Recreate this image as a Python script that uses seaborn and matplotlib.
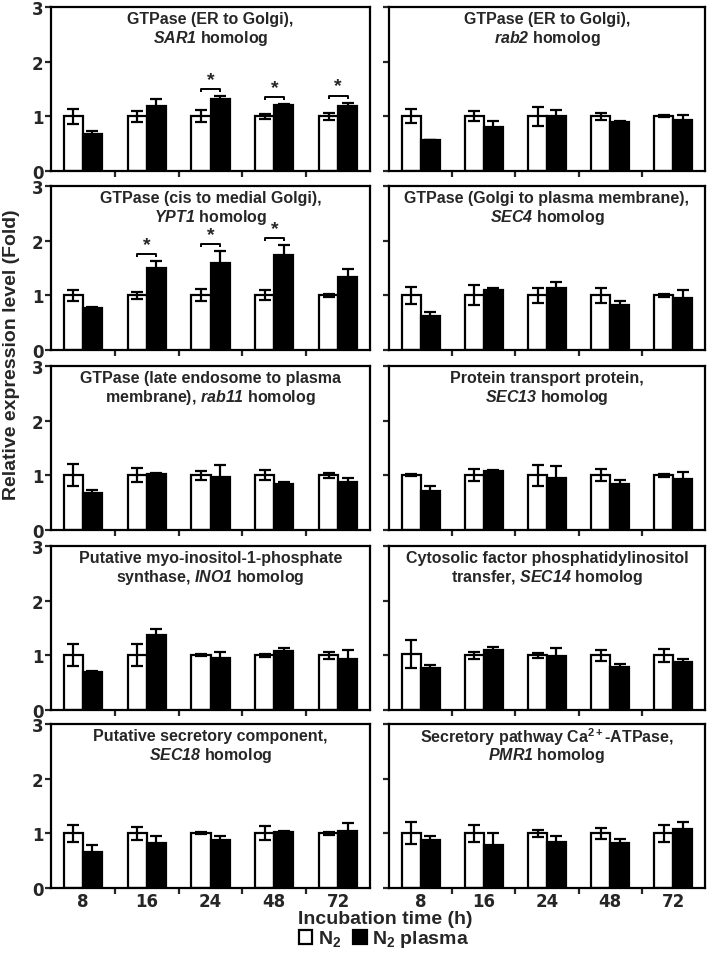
import numpy as np
import pandas as pd
import matplotlib
matplotlib.use("Agg")
import matplotlib.pyplot as plt
import seaborn as sns
from matplotlib.patches import Patch

# ---------------- data ----------------
times = ["8", "16", "24", "48", "72"]
groups = ["N2", "N2 plasma"]

title_line1 = [
    "GTPase (ER to Golgi),",
    "GTPase (ER to Golgi),",
    "GTPase (cis to medial Golgi),",
    "GTPase (Golgi to plasma membrane),",
    "GTPase (late endosome to plasma",
    "Protein transport protein,",
    "Putative myo-inositol-1-phosphate",
    "Cytosolic factor phosphatidylinositol",
    "Putative secretory component,",
    "Secretory pathway Ca$^{2+}$-ATPase,",
]
title_line2 = [
    r"$\mathsf{SAR1}$ homolog",
    r"$\mathsf{rab2}$ homolog",
    r"$\mathsf{YPT1}$ homolog",
    r"$\mathsf{SEC4}$ homolog",
    r"membrane), $\mathsf{rab11}$ homolog",
    r"$\mathsf{SEC13}$ homolog",
    r"synthase, $\mathsf{INO1}$ homolog",
    r"transfer, $\mathsf{SEC14}$ homolog",
    r"$\mathsf{SEC18}$ homolog",
    r"$\mathsf{PMR1}$ homolog",
]

n2_mean = [
    [1.00, 1.00, 1.00, 1.00, 1.00],
    [1.00, 1.00, 1.00, 1.00, 1.00],
    [1.00, 1.00, 1.00, 1.00, 1.00],
    [1.00, 1.00, 1.00, 1.00, 1.00],
    [1.00, 1.00, 1.00, 1.00, 1.00],
    [1.00, 1.00, 1.00, 1.00, 1.00],
    [1.00, 1.00, 1.00, 1.00, 1.00],
    [1.02, 1.00, 1.00, 1.00, 1.00],
    [1.00, 1.00, 1.00, 1.00, 1.00],
    [1.00, 1.00, 1.00, 1.00, 1.00],
]
n2_err = [
    [0.14, 0.10, 0.11, 0.05, 0.07],
    [0.13, 0.09, 0.17, 0.07, 0.02],
    [0.10, 0.07, 0.11, 0.09, 0.03],
    [0.15, 0.18, 0.14, 0.14, 0.03],
    [0.20, 0.13, 0.08, 0.09, 0.05],
    [0.02, 0.11, 0.19, 0.11, 0.03],
    [0.20, 0.20, 0.02, 0.03, 0.07],
    [0.26, 0.07, 0.05, 0.10, 0.12],
    [0.15, 0.12, 0.02, 0.13, 0.03],
    [0.20, 0.16, 0.06, 0.10, 0.15],
]
plasma_mean = [
    [0.67, 1.19, 1.31, 1.21, 1.19],
    [0.57, 0.80, 1.00, 0.89, 0.93],
    [0.76, 1.50, 1.59, 1.74, 1.33],
    [0.62, 1.10, 1.14, 0.83, 0.96],
    [0.67, 1.02, 0.97, 0.85, 0.87],
    [0.72, 1.08, 0.95, 0.84, 0.94],
    [0.69, 1.37, 0.95, 1.08, 0.93],
    [0.77, 1.10, 0.99, 0.79, 0.88],
    [0.65, 0.82, 0.87, 1.02, 1.04],
    [0.87, 0.79, 0.84, 0.82, 1.08],
]
plasma_err = [
    [0.06, 0.12, 0.06, 0.01, 0.06],
    [0.00, 0.12, 0.11, 0.03, 0.09],
    [0.02, 0.13, 0.22, 0.18, 0.16],
    [0.08, 0.03, 0.10, 0.07, 0.14],
    [0.07, 0.02, 0.22, 0.03, 0.08],
    [0.08, 0.02, 0.22, 0.08, 0.12],
    [0.02, 0.11, 0.11, 0.06, 0.17],
    [0.05, 0.05, 0.15, 0.06, 0.06],
    [0.13, 0.13, 0.08, 0.02, 0.15],
    [0.09, 0.22, 0.11, 0.07, 0.12],
]
significant = [
    [0, 0, 1, 1, 1],
    [0, 0, 0, 0, 0],
    [0, 1, 1, 1, 0],
    [0, 0, 0, 0, 0],
    [0, 0, 0, 0, 0],
    [0, 0, 0, 0, 0],
    [0, 0, 0, 0, 0],
    [0, 0, 0, 0, 0],
    [0, 0, 0, 0, 0],
    [0, 0, 0, 0, 0],
]

# ---------------- style ----------------
sns.set_style("ticks")
plt.rcParams["font.family"] = ["Liberation Sans", "DejaVu Sans"]
plt.rcParams["font.weight"] = "bold"
plt.rcParams["mathtext.fontset"] = "custom"
plt.rcParams["mathtext.default"] = "bf"
plt.rcParams["mathtext.bf"] = "Liberation Sans:bold"
plt.rcParams["mathtext.rm"] = "Liberation Sans:bold"
plt.rcParams["mathtext.sf"] = "Liberation Sans:bold:italic"
plt.rcParams["mathtext.it"] = "Liberation Sans:bold:italic"

W, H = 709, 954
fig = plt.figure(figsize=(W / 100, H / 100), dpi=100)
fig.patch.set_facecolor("white")

col_x = [51, 389]
col_w = [319, 316]
row_top = [8, 187, 367, 547, 725]
ax_h = 164
LW = 1.6
tick_font = dict(family="DejaVu Sans", weight="bold", size=12)

for i in range(10):
    r, c = divmod(i, 2)
    ax = fig.add_axes([col_x[c] / W, 1 - (row_top[r] + ax_h) / H,
                       col_w[c] / W, ax_h / H])
    df = pd.DataFrame({
        "time": times * 2,
        "treatment": [groups[0]] * 5 + [groups[1]] * 5,
        "value": n2_mean[i] + plasma_mean[i],
    })
    sns.barplot(data=df, x="time", y="value", hue="treatment",
                order=times, hue_order=groups, palette=["white", "black"],
                edgecolor="black", linewidth=LW, width=0.6, gap=0,
                saturation=1, errorbar=None, legend=False, ax=ax)

    bars = ax.patches
    xs_n2 = [b.get_x() + b.get_width() / 2 for b in bars[:5]]
    xs_pl = [b.get_x() + b.get_width() / 2 for b in bars[5:10]]
    ax.errorbar(xs_n2, n2_mean[i], yerr=n2_err[i], fmt="none",
                ecolor="black", elinewidth=LW, capsize=4, capthick=LW,
                zorder=5)
    ax.errorbar(xs_pl, plasma_mean[i], yerr=plasma_err[i], fmt="none",
                ecolor="black", elinewidth=LW, capsize=4, capthick=LW,
                zorder=5)

    # significance brackets
    for k in range(5):
        if significant[i][k]:
            top = max(n2_mean[i][k] + n2_err[i][k],
                      plasma_mean[i][k] + plasma_err[i][k])
            yb = top + 0.13
            ax.plot([xs_n2[k], xs_n2[k], xs_pl[k], xs_pl[k]],
                    [yb - 0.06, yb, yb, yb - 0.06], color="black",
                    lw=1.4, solid_capstyle="butt", clip_on=False)
            ax.text((xs_n2[k] + xs_pl[k]) / 2, yb + 0.02, "*",
                    ha="center", va="bottom", fontsize=14,
                    fontweight="bold")

    ax.set_xlim(-0.5, 4.5)
    ax.set_ylim(0, 3)
    ax.set_xlabel("")
    ax.set_ylabel("")
    ax.set_xticks([0.5, 1.5, 2.5, 3.5])
    ax.set_xticklabels([])
    ax.set_xticks(range(5), minor=True)
    if r == 4:
        ax.set_xticklabels(times, minor=True, **tick_font)
    else:
        ax.set_xticklabels([""] * 5, minor=True)
    ax.tick_params(axis="x", which="major", length=4, width=LW,
                   direction="out")
    ax.tick_params(axis="x", which="minor", length=0, pad=3)
    ax.set_yticks([0, 1, 2, 3])
    if c == 0:
        ax.set_yticklabels(["0", "1", "2", "3"], **tick_font)
    else:
        ax.set_yticklabels([])
    ax.tick_params(axis="y", length=4, width=LW, direction="out", pad=1.5)
    for s in ax.spines.values():
        s.set_visible(True)
        s.set_linewidth(LW)
        s.set_color("black")

    ax.text(0.5, 0.927, title_line1[i], transform=ax.transAxes,
            ha="center", va="center", fontsize=11.5, fontweight="bold")
    ax.text(0.5, 0.812, title_line2[i], transform=ax.transAxes,
            ha="center", va="center", fontsize=11.5, fontweight="bold")

fig.text(12 / W, 1 - 355 / H, "Relative expression level (Fold)",
         rotation=90, ha="center", va="center", fontsize=14,
         fontweight="bold")
fig.text(385 / W, 1 - 920 / H, "Incubation time (h)", ha="center",
         va="center", fontsize=14, fontweight="bold")

handles = [Patch(facecolor="white", edgecolor="black", linewidth=LW),
           Patch(facecolor="black", edgecolor="black", linewidth=LW)]
fig.legend(handles, ["N$_2$", "N$_2$ plasma"], loc="center",
           bbox_to_anchor=(384 / W, 1 - 940 / H), ncol=2, frameon=False,
           fontsize=14, handlelength=0.7, handleheight=0.7,
           handletextpad=0.3, columnspacing=0.6, borderpad=0,
           borderaxespad=0)

fig.savefig("out.png", dpi=100, facecolor="white")
